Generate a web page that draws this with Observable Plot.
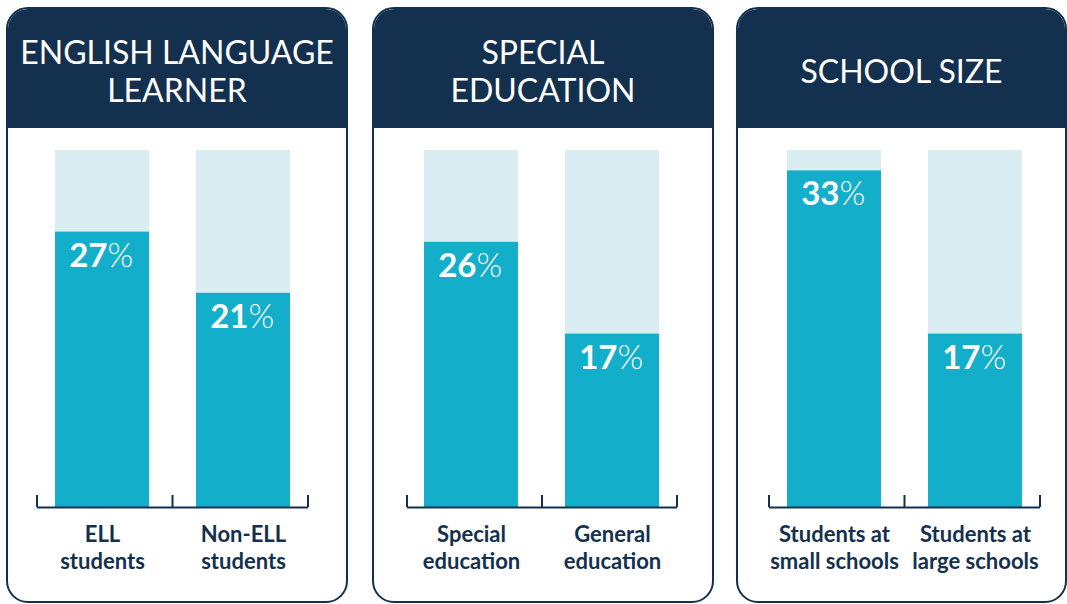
<!DOCTYPE html>
<html><head><meta charset="utf-8">
<script src="https://cdn.jsdelivr.net/npm/d3@7"></script>
<script src="https://cdn.jsdelivr.net/npm/@observablehq/plot@0.6"></script>
<style>
html,body{margin:0;padding:0;background:#fff;width:1067px;height:604px;overflow:hidden;font-family:Lato,"Open Sans",sans-serif}
.panel{position:absolute;top:7px;height:596px;box-sizing:border-box;border:2px solid #14304f;border-radius:22px;overflow:hidden;background:#fff}
.hdr{position:absolute;left:0;top:0;right:0;height:119px;box-sizing:border-box;padding-top:5px;background:#14304f;color:#fff;display:flex;align-items:center;justify-content:center;text-align:center;font-size:32px;line-height:38px;white-space:pre-line}
.panel svg{position:absolute;left:0;top:119px}
</style></head><body>
<script>
// ---- data ----
const groups = ["ENGLISH LANGUAGE\nLEARNER", "SPECIAL\nEDUCATION", "SCHOOL SIZE"];
const categories = [
  ["ELL\nstudents", "Non-ELL\nstudents"],
  ["Special\neducation", "General\neducation"],
  ["Students at\nsmall schools", "Students at\nlarge schools"]
];
const values = [[27, 21], [26, 17], [33, 17]];
const scaleMax = 35;

// ---- styles / layout ----
const navy = "#14304f", teal = "#13aeca", pale = "#daedf3";
const panels = [
  {left: 6, width: 342, ml: 29, mr: 38},
  {left: 372, width: 342, ml: 33, mr: 35},
  {left: 736, width: 331, ml: 31, mr: 25}
];

groups.forEach((g, i) => {
  const p = panels[i];
  const div = document.createElement("div");
  div.className = "panel";
  div.style.left = p.left + "px";
  div.style.width = p.width + "px";
  const hdr = document.createElement("div");
  hdr.className = "hdr";
  hdr.textContent = g;
  div.appendChild(hdr);

  const rows = categories[i].map((c, j) => ({cat: c, value: values[i][j], max: scaleMax}));
  const chart = Plot.plot({
    width: p.width - 4,
    height: 473,
    marginTop: 22,
    marginBottom: 94,
    marginLeft: p.ml,
    marginRight: p.mr,
    style: {fontFamily: "Lato, sans-serif", background: "transparent", color: navy, overflow: "visible"},
    x: {domain: categories[i], axis: null, paddingInner: 0.33, paddingOuter: 0.12},
    y: {domain: [0, scaleMax], axis: null},
    marks: [
      Plot.barY(rows, {x: "cat", y: "max", fill: pale}),
      Plot.barY(rows, {x: "cat", y: "value", fill: teal}),
      Plot.ruleY([0], {stroke: navy, strokeWidth: 2}),
      (index, scales, vals, dims) => {
        const y0 = scales.y(0);
        const x0 = dims.marginLeft, x1 = dims.width - dims.marginRight, xm = (x0 + x1) / 2;
        return d3.create("svg:path")
          .attr("d", `M${x0},${y0 - 12}V${y0}M${xm},${y0 - 12}V${y0}M${x1},${y0 - 12}V${y0}`)
          .attr("fill", "none").attr("stroke", navy).attr("stroke-width", 2).node();
      },
      Plot.text(rows, {x: "cat", y: "value", text: d => String(d.value), textAnchor: "end", dx: 5, dy: 24, fill: "white", fontSize: 33, fontWeight: "bold"}),
      Plot.text(rows, {x: "cat", y: "value", text: () => "%", textAnchor: "start", dx: 5, dy: 24, fill: "white", fontSize: 33, fontWeight: 300}),
      Plot.text(rows, {x: "cat", y: 0, text: "cat", lineAnchor: "top", dy: 15, fontSize: 22, fontWeight: "bold", fill: navy, lineHeight: 1.24})
    ]
  });
  div.appendChild(chart);
  document.body.appendChild(div);
});
</script>
</body></html>
